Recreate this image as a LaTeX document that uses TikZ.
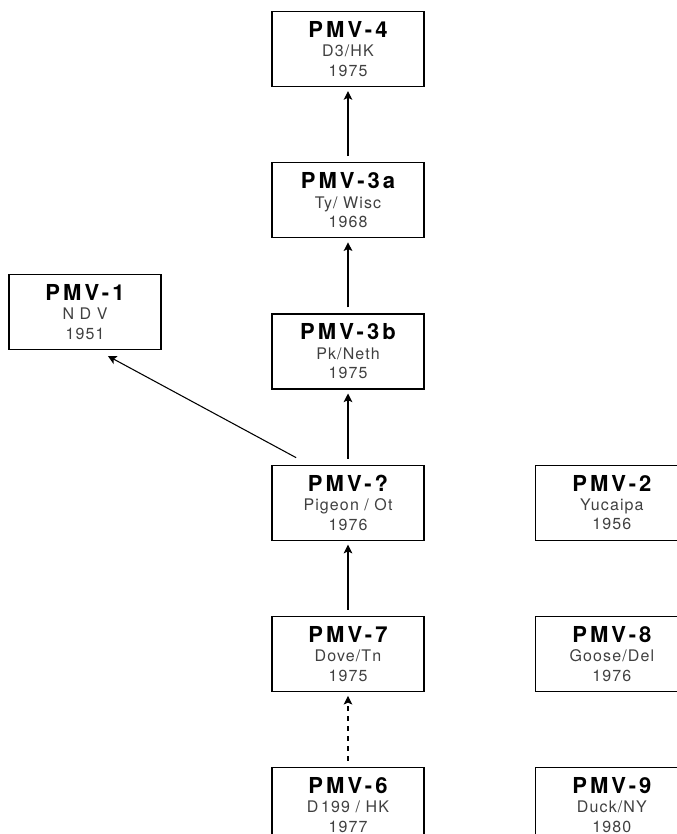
\documentclass[tikz,border=0pt]{standalone}
\usepackage{fontspec}
\setmainfont{TeX Gyre Heros}
\newfontfamily\strainfont[LetterSpace=14]{TeX Gyre Heros}
\newfontfamily\hostfont[LetterSpace=7]{TeX Gyre Heros}
\usetikzlibrary{arrows.meta,positioning}

\begin{document}
\begin{tikzpicture}[x=0.75pt,y=-0.75pt,node distance=56.25pt,
  strain/.style={draw,line width=0.9pt,minimum width=114pt,minimum height=56.25pt,
    inner sep=0pt,align=center,text=black!75,
    font=\hostfont\fontsize{12}{14.5}\selectfont},
  link/.style={line width=0.8pt,-{Stealth[length=6.5pt,width=6.5pt,inset=1.5pt]},
    shorten <=4.5pt,shorten >=3pt}]
  \useasboundingbox (0,0) rectangle (677,834);
  \clip (0,0) rectangle (677,834);
  \newcommand{\pmv}[1]{{\strainfont\bfseries\fontsize{16.5}{15}\selectfont\color{black}#1}}
  \node[strain] (pmv4) at (348,49) {\pmv{PMV-4}\\D3/HK\\1975};
  \node[strain] (pmv3a) [below=of pmv4]  {\pmv{PMV-3a}\\Ty/ Wisc\\1968};
  \node[strain] (pmv3b) [below=of pmv3a] {\pmv{PMV-3b}\\Pk/Neth\\1975};
  \node[strain] (pmvq)  [below=of pmv3b] {\pmv{PMV-?}\\Pigeon / Ot\\1976};
  \node[strain] (pmv7)  [below=of pmvq]  {\pmv{PMV-7}\\Dove/Tn\\1975};
  \node[strain] (pmv6)  [below=of pmv7]  {\pmv{PMV-6}\\D\,199 / HK\\1977};
  \node[strain] (pmv1) at (85,312) {\pmv{PMV-1}\\N D V\\1951};
  \node[strain] (pmv2) [right=83pt of pmvq] {\pmv{PMV-2}\\Yucaipa\\1956};
  \node[strain] (pmv8) [below=of pmv2] {\pmv{PMV-8}\\Goose/Del\\1976};
  \node[strain] (pmv9) [below=of pmv8] {\pmv{PMV-9}\\Duck/NY\\1980};
  \path[link]
  (pmv3a) edge (pmv4)
  (pmv3b) edge (pmv3a)
  (pmvq)  edge (pmv3b)
  (pmv7)  edge (pmvq)
  (pmv6)  edge[dash pattern=on 4pt off 3.5pt] (pmv7)
  ([xshift=22.5pt,yshift=3pt]pmvq.north west) edge ([xshift=72pt,yshift=-3pt]pmv1.south west);
\end{tikzpicture}
\end{document}
